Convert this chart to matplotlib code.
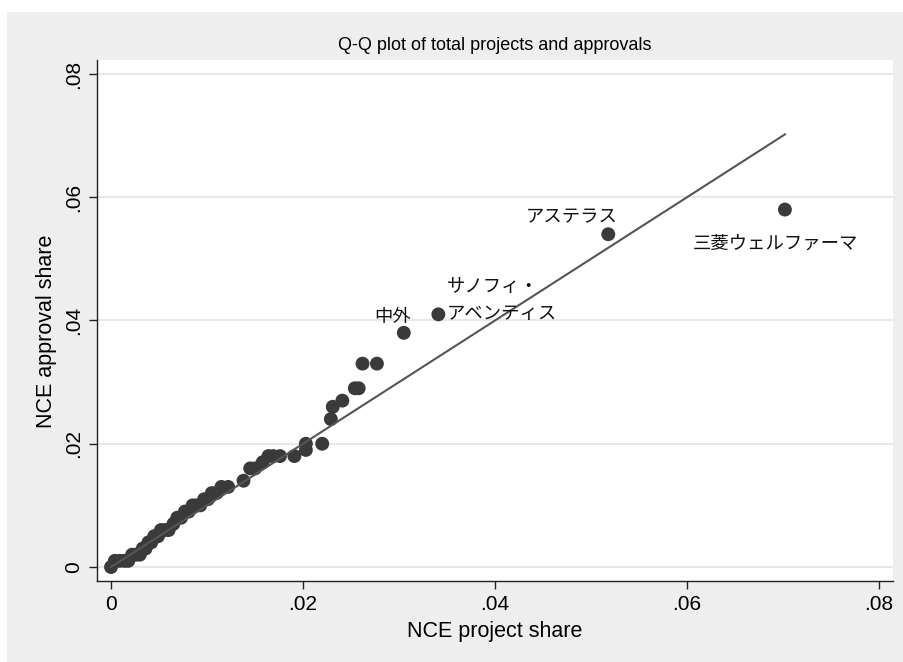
import matplotlib
matplotlib.use("Agg")
import matplotlib.pyplot as plt
from matplotlib.patches import Rectangle

plt.rcParams['font.family'] = ['Liberation Sans', 'DejaVu Sans']

# quantiles of NCE project share vs NCE approval share
project_share = [0.0000, 0.0004, 0.0009, 0.0014, 0.0018, 0.0022, 0.0026, 0.0030,
                 0.0033, 0.0036, 0.0039, 0.0042, 0.0045, 0.0049, 0.0052, 0.0056,
                 0.0060, 0.0065, 0.0069, 0.0073, 0.0077, 0.0081, 0.0085, 0.0089,
                 0.0093, 0.0097, 0.0101, 0.0105, 0.0110, 0.0115, 0.0122, 0.0138,
                 0.0145, 0.0150, 0.0158, 0.0164, 0.0169, 0.0176, 0.0191, 0.0203,
                 0.0203, 0.0220, 0.0229, 0.0231, 0.0241, 0.0254, 0.0258, 0.0262,
                 0.0277, 0.0305, 0.0341, 0.0518, 0.0702]
approval_share = [0.000, 0.001, 0.001, 0.001, 0.001, 0.002, 0.002, 0.002,
                  0.003, 0.003, 0.004, 0.004, 0.005, 0.005, 0.006, 0.006,
                  0.006, 0.007, 0.008, 0.008, 0.009, 0.009, 0.010, 0.010,
                  0.010, 0.011, 0.011, 0.012, 0.012, 0.013, 0.013, 0.014,
                  0.016, 0.016, 0.017, 0.018, 0.018, 0.018, 0.018, 0.019,
                  0.020, 0.020, 0.024, 0.026, 0.027, 0.029, 0.029, 0.033,
                  0.033, 0.038, 0.041, 0.054, 0.058]

# labelled companies
company_names = ['中外', 'サノフィ・\nアベンティス', 'アステラス', '三菱ウェルファーマ']
company_x = [0.0305, 0.0341, 0.0518, 0.0702]
company_y = [0.038, 0.041, 0.054, 0.058]

x_ticks = [0, 0.02, 0.04, 0.06, 0.08]
x_tick_labels = ['0', '.02', '.04', '.06', '.08']
y_ticks = [0, 0.02, 0.04, 0.06, 0.08]
y_tick_labels = ['0', '.02', '.04', '.06', '.08']

fig = plt.figure(figsize=(9.04, 6.62), dpi=100, facecolor='white')
fig.patches.append(Rectangle((7 / 904, 0), 1, 1 - 12 / 662, transform=fig.transFigure,
                             facecolor='#eeeeee', edgecolor='none', zorder=-10))

ax = fig.add_axes([97 / 904, 1 - 581 / 662, 796 / 904, 521 / 662])
ax.set_facecolor('white')

ax.scatter(project_share, approval_share, s=100, color='#3a3a3a', edgecolors='none',
           zorder=3, clip_on=False)

# 45 degree reference line over the range of the data
lo, hi = min(project_share), max(project_share)
ax.plot([lo, hi], [lo, hi], color='#555555', linewidth=1.5, zorder=4)

label_offsets = [(-8, 11.5), (6, 10), (6.5, 12), (-7, -24.5)]
label_align = ['center', 'left', 'right', 'center']
for name, cx, cy, off, ha in zip(company_names, company_x, company_y,
                                 label_offsets, label_align):
    ax.annotate(name, (cx, cy), xytext=off, textcoords='offset points',
                ha=ha, va='center', fontsize=13.2, linespacing=1.7,
                family=['Noto Sans CJK JP', 'DejaVu Sans'], color='#111111',
                zorder=5)

ax.set_xlim(-0.00146, 0.08146)
ax.set_ylim(-0.00227, 0.08227)
ax.set_xticks(x_ticks)
ax.set_xticklabels(x_tick_labels)
ax.set_yticks(y_ticks)
ax.set_yticklabels(y_tick_labels, rotation=90, va='center')

ax.grid(axis='y', color='#e8e8e8', linewidth=1.5)
ax.set_axisbelow(True)
for side in ['top', 'right']:
    ax.spines[side].set_visible(False)
for side in ['left', 'bottom']:
    ax.spines[side].set_color('#222222')
    ax.spines[side].set_linewidth(1.0)
ax.tick_params(direction='out', length=6, width=1, color='#222222',
               labelsize=15, pad=4)

ax.set_xlabel('NCE project share', fontsize=15.5, labelpad=5)
ax.set_ylabel('NCE approval share', fontsize=15.5)
ax.yaxis.set_label_coords(-0.05, 0.48)
fig.text(495 / 904, 1 - 45 / 662, 'Q-Q plot of total projects and approvals',
         ha='center', va='center', fontsize=13)

fig.savefig('out.png', dpi=100, facecolor=fig.get_facecolor())
